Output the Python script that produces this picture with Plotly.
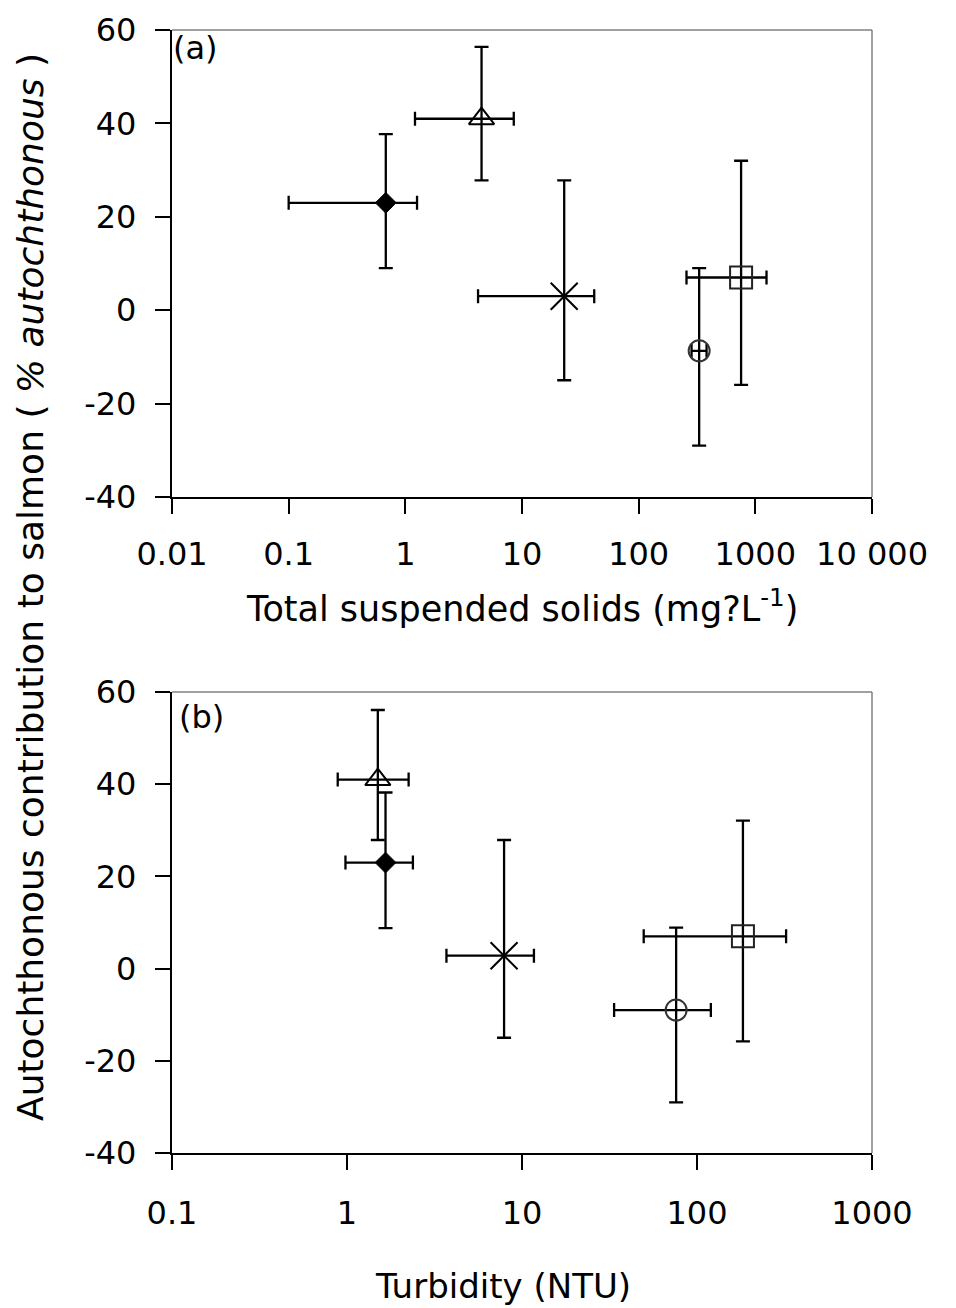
import plotly.graph_objects as go

# ---------------- data ----------------
groups = ["diamond", "triangle", "cross", "square", "circle"]

# Panel (a): Total suspended solids (mg/L)
tss_x = [0.68, 4.5, 23, 755, 330]
tss_x_lo = [0.10, 1.21, 4.2, 257, 284]
tss_x_hi = [1.26, 8.5, 41.6, 1247, 382]
tss_y = [23, 41, 3, 7, -8.7]
tss_y_lo = [9, 27.8, -15, -16, -29]
tss_y_hi = [37.7, 56.4, 27.8, 32, 9]

# Panel (b): Turbidity (NTU)
tur_x = [1.66, 1.5, 7.9, 183, 76]
tur_x_lo = [0.98, 0.885, 3.7, 49.6, 33.6]
tur_x_hi = [2.38, 2.25, 11.7, 323, 120]
tur_y = [23, 41, 2.8, 7, -9]
tur_y_lo = [8.8, 27.9, -15, -15.8, -29]
tur_y_hi = [38.2, 56.1, 27.9, 32.1, 8.9]

tss_tickvals = [0.01, 0.1, 1, 10, 100, 1000, 10000]
tss_ticktext = ["0.01", "0.1", "1", "10", "100", "1000", "10 000"]
tur_tickvals = [0.1, 1, 10, 100, 1000]
tur_ticktext = ["0.1", "1", "10", "100", "1000"]
y_tickvals = [-40, -20, 0, 20, 40, 60]
y_ticktext = ["-40", "-20", "0", "20", "40", "60"]

# ---------------- styling ----------------
FONT = "DejaVu Sans"
marker_styles = {
    "diamond": dict(symbol="diamond", size=16, color="black", line=dict(color="black", width=1)),
    "triangle": dict(symbol="triangle-up-open", size=22, color="black", line=dict(color="black", width=2)),
    "cross": dict(symbol="x-thin-open", size=27, color="black", line=dict(color="black", width=2)),
    "square": dict(symbol="square-open", size=22, color="#222", line=dict(color="#222", width=2)),
    "circle": dict(symbol="circle-open", size=21, color="#333", line=dict(color="#333", width=2)),
}

fig = go.Figure()


def add_panel(xs, xlo, xhi, ys, ylo, yhi, xaxis, yaxis):
    for i, g in enumerate(groups):
        fig.add_trace(go.Scatter(
            x=[xs[i]], y=[ys[i]], mode="markers",
            marker=marker_styles[g],
            error_x=dict(type="data", symmetric=False,
                         array=[xhi[i] - xs[i]], arrayminus=[xs[i] - xlo[i]],
                         color="black", thickness=2.3, width=7),
            error_y=dict(type="data", symmetric=False,
                         array=[yhi[i] - ys[i]], arrayminus=[ys[i] - ylo[i]],
                         color="black", thickness=2.3, width=7),
            xaxis=xaxis, yaxis=yaxis, showlegend=False, hoverinfo="skip",
        ))


add_panel(tss_x, tss_x_lo, tss_x_hi, tss_y, tss_y_lo, tss_y_hi, "x", "y")
add_panel(tur_x, tur_x_lo, tur_x_hi, tur_y, tur_y_lo, tur_y_hi, "x2", "y2")

W, H = 956, 1308
xdom = [172 / W, 872 / W]
ydom_top = [1 - 497 / H, 1 - 30 / H]
ydom_bot = [1 - 1153 / H, 1 - 692 / H]

tickfont = dict(family=FONT, size=32, color="black")
common_x = dict(type="log", showgrid=False, zeroline=False, showline=True, linecolor="black",
                linewidth=2.3, ticks="outside", ticklen=15, tickwidth=2.3, tickcolor="black",
                tickfont=tickfont, mirror=False, automargin=False)
common_y = dict(range=[-40, 60], tickvals=y_tickvals, ticktext=y_ticktext, showgrid=False,
                zeroline=False, showline=True, linecolor="black", linewidth=2.3, ticks="outside",
                ticklen=15, tickwidth=2.3, tickcolor="black", tickfont=tickfont,
                ticklabelstandoff=12, mirror=False, automargin=False)

fig.update_layout(
    width=W, height=H,
    margin=dict(l=0, r=0, t=0, b=0),
    paper_bgcolor="white", plot_bgcolor="white",
    xaxis=dict(domain=xdom, anchor="y", range=[-2, 4], tickvals=tss_tickvals,
               ticktext=tss_ticktext, ticklabelstandoff=12, **common_x),
    yaxis=dict(domain=ydom_top, anchor="x", **common_y),
    xaxis2=dict(domain=xdom, anchor="y2", range=[-1, 3], tickvals=tur_tickvals,
                ticktext=tur_ticktext, ticklabelstandoff=15, **common_x),
    yaxis2=dict(domain=ydom_bot, anchor="x2", **common_y),
    font=dict(family=FONT, color="black"),
)

# gray top/right frame lines
for xr, yr in [("x domain", "y domain"), ("x2 domain", "y2 domain")]:
    fig.add_shape(type="line", xref=xr, yref=yr, x0=0, x1=1, y0=1, y1=1,
                  line=dict(color="#808080", width=1.5))
    fig.add_shape(type="line", xref=xr, yref=yr, x0=1, x1=1, y0=0, y1=1,
                  line=dict(color="#808080", width=1.5))

ann_font = dict(family=FONT, size=35, color="black")
fig.add_annotation(text="Autochthonous contribution to salmon ( <i>% autochthonous</i> )",
                   xref="paper", yref="paper", x=30 / W, y=1 - 587 / H,
                   xanchor="center", yanchor="middle", textangle=-90, showarrow=False,
                   font=dict(family=FONT, size=36, color="black"))
fig.add_annotation(text="Total suspended solids (mg?L<sup>-1</sup>)",
                   xref="paper", yref="paper", x=522 / W, y=1 - 606 / H,
                   xanchor="center", yanchor="middle", showarrow=False, font=ann_font)
fig.add_annotation(text="Turbidity (NTU)",
                   xref="paper", yref="paper", x=503 / W, y=1 - 1286 / H,
                   xanchor="center", yanchor="middle", showarrow=False,
                   font=dict(family=FONT, size=34, color="black"))
fig.add_annotation(text="(a)", xref="paper", yref="paper", x=171 / W, y=1 - 48 / H,
                   xanchor="left", yanchor="middle", showarrow=False,
                   font=dict(family=FONT, size=32, color="black"))
fig.add_annotation(text="(b)", xref="paper", yref="paper", x=177 / W, y=1 - 717 / H,
                   xanchor="left", yanchor="middle", showarrow=False,
                   font=dict(family=FONT, size=32, color="black"))

fig.write_html("out.html")
